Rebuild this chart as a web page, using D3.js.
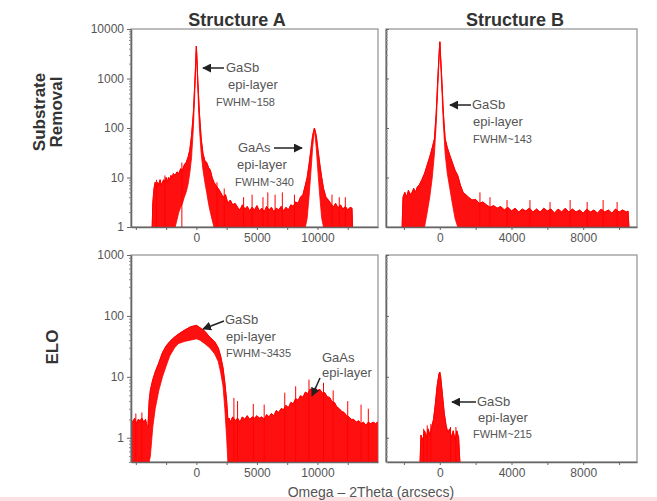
<!DOCTYPE html>
<html>
<head>
<meta charset="utf-8">
<script src="https://cdn.jsdelivr.net/npm/d3@7"></script>
<style>
  body { margin: 0; background: #fff; }
  text { font-family: Arial, "Liberation Sans", sans-serif; }
</style>
</head>
<body>
<svg width="657" height="501"></svg>
<script>
// ---- data (angle in arcsec, counts) ----
// Substrate removal, structure A
var topA_ang = [-3650,-3600,-3500,-3400,-3300,-3200,-3100,-3000,-2900,-2800,
  -2700,-2600,-2500,-2400,-2300,-2200,-2100,-2000,-1900,-1750,
  -1600,-1450,-1300,-1150,-1000,-850,-700,-550,-400,-250,
  -120,0,120,250,400,550,700,850,1000,1150,
  1300,1450,1600,1800,2000,2200,2400,2600,2800,3000,
  3200,3400,3600,3800,4000,4200,4400,4600,4800,5000,
  5200,5400,5600,5800,6000,6200,6400,6600,6800,7000,
  7200,7400,7600,7800,8000,8200,8400,8600,8800,9000,
  9150,9300,9450,9600,9750,9900,10050,10200,10350,10500,
  10700,10900,11100,11300,11500,11700,11900,12100,12300,12500,
  12700,12850,12900];
var topA_hi = [0.5,3,6,8,6,8,7,9,7,8,
  9,8,10,8,10,9,11,10,12,11,
  13,12,15,14,18,20,25,35,70,200,
  900,4500,900,200,60,30,22,20,16,14,
  10,8,7,6,5,4,4.5,3,3.5,2.8,
  3,2.5,2.2,2.8,2.3,2.6,2.1,2.5,2.2,2.7,
  2.1,2.4,2,2.6,2.2,2.5,2,2.4,2.2,2.6,
  2.1,2.5,2.2,2.8,2.6,3.2,3,4,4.5,7,
  10,18,35,70,100,70,35,18,10,6,
  4,3.5,3,2.5,3,2.4,2.8,2.3,2.6,2.2,
  2.5,2.4,0.5];
var topA_lo = [0.5,0.5,0.5,0.5,0.5,0.5,0.5,0.5,0.5,0.5,
  0.5,0.5,0.5,0.5,0.5,0.5,0.5,0.5,0.6,1,
  1.4,2,2.5,3,4,5,7,12,25,100,
  600,4500,600,100,30,14,8,5,3,2,
  1.4,1,0.5,0.5,0.5,0.5,0.5,0.5,0.5,0.5,
  0.5,0.5,0.5,0.5,0.5,0.5,0.5,0.5,0.5,0.5,
  0.5,0.5,0.5,0.5,0.5,0.5,0.5,0.5,0.5,0.5,
  0.5,0.5,0.5,0.5,0.5,0.5,0.5,0.5,0.5,0.5,
  1.5,4,12,40,95,40,12,4,1.5,0.5,
  0.5,0.5,0.5,0.5,0.5,0.5,0.5,0.5,0.5,0.5,
  0.5,0.5,0.5];
var topA_spikeAng = [-3300,-2600,-1200,1700,2300,3900,4600,5500,5900,6500,7100,8100,11200,11800,12300];
var topA_spikeVal = [9,11,20,8,6,4,4.5,4,5,4.5,5,4.5,4.5,4,4];

// Substrate removal, structure B
var topB_ang = [-2100,-2050,-1950,-1850,-1750,-1650,-1550,-1450,-1350,-1250,
  -1150,-1000,-850,-700,-560,-420,-300,-200,-100,0,
  100,200,300,420,560,700,850,1000,1150,1300,
  1450,1600,1800,2000,2200,2400,2600,2800,3000,3200,
  3400,3600,3800,4000,4200,4400,4600,4800,5000,5200,
  5400,5600,5800,6000,6200,6400,6600,6800,7000,7200,
  7400,7600,7800,8000,8200,8400,8600,8800,9000,9200,
  9400,9600,9800,10000,10200,10400,10500,10550];
var topB_hi = [0.5,4,5,4,5.5,4.5,5,6,5,6.5,
  7,9,12,18,26,40,60,200,1200,5500,
  1200,200,60,40,28,20,14,11,7,5,
  4.5,4,3.5,3.6,3,3.2,2.8,2.5,2.7,2.4,
  2.6,2.2,2.5,2.1,2.4,2,2.3,2.1,2.4,2,
  2.3,2,2.4,2.1,2.3,1.9,2.3,2,2.4,2,
  2.3,2,2.2,1.9,2.3,2,2.2,1.9,2.3,2,
  2.2,1.9,2.3,2,2.2,2,2.1,0.5];
var topB_lo = [0.5,0.5,0.5,0.5,0.5,0.5,0.5,0.5,0.5,0.5,
  0.5,0.5,1,2,4,10,30,120,800,5500,
  800,120,30,12,6,3,1.5,0.8,0.5,0.5,
  0.5,0.5,0.5,0.5,0.5,0.5,0.5,0.5,0.5,0.5,
  0.5,0.5,0.5,0.5,0.5,0.5,0.5,0.5,0.5,0.5,
  0.5,0.5,0.5,0.5,0.5,0.5,0.5,0.5,0.5,0.5,
  0.5,0.5,0.5,0.5,0.5,0.5,0.5,0.5,0.5,0.5,
  0.5,0.5,0.5,0.5,0.5,0.5,0.5,0.5];
var topB_spikeAng = [2240,2800,3750,5030,6150,7270,8220,9110,9890];
var topB_spikeVal = [5,4,3.5,3.5,3.2,3.5,3.2,3.5,3.2];

// ELO, structure A
var botA_ang = [-5400,-5250,-5100,-4950,-4800,-4650,-4500,-4350,-4200,-4100,
  -4000,-3900,-3800,-3600,-3400,-3100,-2800,-2500,-2200,-1800,
  -1500,-1000,-500,0,300,700,1100,1500,1800,2000,
  2200,2350,2500,2600,2700,2800,3000,3200,3400,3600,
  3800,4000,4200,4400,4600,4800,5000,5200,5400,5600,
  5800,6000,6200,6400,6600,6800,7000,7200,7400,7600,
  7800,8000,8200,8400,8600,8800,9000,9200,9400,9600,
  9800,10000,10200,10400,10600,10800,11000,11200,11400,11600,
  11800,12000,12200,12400,12600,12800,13000,13200,13400,13600,
  13800,14000,14200,14400,14600,14800,14950];
var botA_hi = [2,1.8,2.1,1.7,2,1.9,2.1,1.8,2,1.6,
  1.5,4,6,9,12,17,25,32,38,45,
  50,58,66,70,64,56,45,38,30,22,
  14,8,4,2,2.1,1.8,2.2,1.9,2.1,1.8,
  2.2,2,2.3,2,2.2,2.1,2.3,2.1,2.2,2,
  2.4,2.2,2.5,2.3,2.8,2.6,3,2.9,3.4,3.1,
  3.8,3.6,4.4,4.1,4.9,4.6,5.6,5.3,6.3,6,
  6.6,6,6.2,5.4,5.5,4.7,4.6,3.9,3.8,3.2,
  3,2.7,2.6,2.3,2.2,2,2,1.8,1.9,1.7,
  1.8,1.6,1.8,1.7,1.8,1.7,1.8];
var botA_lo = [0.2,0.2,0.2,0.2,0.2,0.2,0.2,0.2,0.2,0.2,
  0.2,0.2,0.5,1.5,3,6,10,15,22,30,
  35,38,40,42,40,35,30,24,18,12,
  7,3,1,0.2,0.2,0.2,0.2,0.2,0.2,0.2,
  0.2,0.2,0.2,0.2,0.2,0.2,0.2,0.2,0.2,0.2,
  0.2,0.2,0.2,0.2,0.2,0.2,0.2,0.2,0.2,0.2,
  0.2,0.2,0.2,0.2,0.2,0.2,0.2,0.2,0.2,0.2,
  0.2,0.2,0.2,0.2,0.2,0.2,0.2,0.2,0.2,0.2,
  0.2,0.2,0.2,0.2,0.2,0.2,0.2,0.2,0.2,0.2,
  0.2,0.2,0.2,0.2,0.2,0.2,0.2];
var botA_spikeAng = [-5000,-4500,3100,3400,4700,5600,7300,8200,9300,10500,11300,12500,13600,14200];
var botA_spikeVal = [2.5,2.6,4.5,4,3.6,3.5,5.5,7,9,8,6,4,3.5,3];

// ELO, structure B
var botB_ang = [-1100,-1050,-950,-850,-750,-650,-550,-450,-350,-250,
  -150,-50,0,50,150,250,350,450,550,650,
  750,850,950,1050,1120];
var botB_hi = [0.2,1.1,0.9,1.3,1,1.4,1.1,1.5,2,3.5,
  7,11,12,10,5,2.5,1.6,1.2,1.4,1,
  1.3,0.9,1.3,1,0.2];
var botB_lo = [0.2,0.2,0.2,0.2,0.2,0.2,0.2,0.2,0.2,0.2,
  0.2,0.2,0.2,0.2,0.2,0.2,0.2,0.2,0.2,0.2,
  0.2,0.2,0.2,0.2,0.2];
var botB_spikeAng = [-900,-700,-500,600,900];
var botB_spikeVal = [1.4,1.6,1.7,1.5,1.5];

// axis tick sets
var ticksA = [-5000,-2500,0,2500,5000,7500,10000,12500];
var labelsA = [0,5000,10000];
var ticksB = [-2000,0,2000,4000,6000,8000,10000];
var labelsB = [0,4000,8000];

var svg = d3.select("svg");

// scales
var xA = d3.scaleLinear().domain([-5400, 15000]).range([131, 378]);
var xB = d3.scaleLinear().domain([-3000, 11000]).range([386, 637]);
var yTop = d3.scaleLog().domain([1, 10000]).range([227, 29]).clamp(true);
var yBot = d3.scaleLog().domain([0.4, 1000]).range([462, 255]).clamp(true);

function zip(ang, hi, lo) {
  return ang.map(function(a, i) { return {a: a, hi: hi[i], lo: lo[i]}; });
}

var panels = [
  {id: "tA", x: xA, y: yTop, data: zip(topA_ang, topA_hi, topA_lo), sa: topA_spikeAng, sv: topA_spikeVal, ticks: ticksA, labels: labelsA, left: true},
  {id: "tB", x: xB, y: yTop, data: zip(topB_ang, topB_hi, topB_lo), sa: topB_spikeAng, sv: topB_spikeVal, ticks: ticksB, labels: labelsB, left: false},
  {id: "bA", x: xA, y: yBot, data: zip(botA_ang, botA_hi, botA_lo), sa: botA_spikeAng, sv: botA_spikeVal, ticks: ticksA, labels: labelsA, left: true},
  {id: "bB", x: xB, y: yBot, data: zip(botB_ang, botB_hi, botB_lo), sa: botB_spikeAng, sv: botB_spikeVal, ticks: ticksB, labels: labelsB, left: false}
];

svg.append("rect").attr("x", 0).attr("y", 497).attr("width", 657).attr("height", 4).attr("fill", "#fbe1e1");

panels.forEach(function(p) {
  var x0 = p.x.range()[0], x1 = p.x.range()[1];
  var yb = p.y.range()[0], yt = p.y.range()[1];
  var g = svg.append("g");

  g.append("clipPath").attr("id", "clip-" + p.id)
    .append("rect").attr("x", x0).attr("y", yt).attr("width", x1 - x0).attr("height", yb - yt);

  // frame
  g.append("rect").attr("x", x0).attr("y", yt).attr("width", x1 - x0).attr("height", yb - yt)
    .attr("fill", "none").attr("stroke", "#999").attr("stroke-width", 1.3);

  var plot = g.append("g").attr("clip-path", "url(#clip-" + p.id + ")");

  var area = d3.area()
    .x(function(d) { return p.x(d.a); })
    .y0(function(d) { return p.y(d.lo); })
    .y1(function(d) { return p.y(d.hi); });

  plot.append("path").datum(p.data).attr("d", area)
    .attr("fill", "#ff1010").attr("stroke", "#ff0000").attr("stroke-width", 0.8);

  var line = d3.line().x(function(d) { return p.x(d.a); }).y(function(d) { return p.y(d.hi); });
  plot.append("path").datum(p.data).attr("d", line)
    .attr("fill", "none").attr("stroke", "#ff0000").attr("stroke-width", 1);

  plot.selectAll(".spike").data(p.sa).enter().append("line")
    .attr("x1", function(d) { return p.x(d); })
    .attr("x2", function(d) { return p.x(d); })
    .attr("y1", yb)
    .attr("y2", function(d, i) { return p.y(p.sv[i]); })
    .attr("stroke", "#ff0000").attr("stroke-width", 1);

  // x axis
  var xa = g.append("g").attr("transform", "translate(0," + yb + ")")
    .call(d3.axisBottom(p.x).tickValues(p.ticks).tickSize(3).tickSizeOuter(0)
      .tickFormat(function(d) { return p.labels.indexOf(d) >= 0 ? d : ""; }));
  xa.select(".domain").attr("stroke", "#666").attr("stroke-width", 1.6);
  xa.selectAll(".tick line").attr("stroke", "#666");
  xa.selectAll("text").attr("fill", "#555").attr("font-size", 12);

  // y axis
  var dec = p.y.ticks().filter(function(d) { return Math.abs(Math.log10(d) - Math.round(Math.log10(d))) < 1e-6; });
  var minor = p.y.ticks().filter(function(d) { return dec.indexOf(d) < 0; });
  if (p.left) {
    var ya = g.append("g").attr("transform", "translate(" + x0 + ",0)")
      .call(d3.axisLeft(p.y).tickValues(dec).tickSize(4).tickSizeOuter(0).tickFormat(d3.format("d")));
    ya.select(".domain").attr("stroke", "#666").attr("stroke-width", 1.6);
    ya.selectAll(".tick line").attr("stroke", "#666");
    ya.selectAll("text").attr("fill", "#555").attr("font-size", 12);
    var ym = g.append("g").attr("transform", "translate(" + x0 + ",0)")
      .call(d3.axisLeft(p.y).tickValues(minor).tickSize(2).tickFormat(""));
    ym.select(".domain").remove();
    ym.selectAll(".tick line").attr("stroke", "#888");
  } else {
    var yr = g.append("g").attr("transform", "translate(" + x0 + ",0)")
      .call(d3.axisRight(p.y).tickValues(dec).tickSize(3).tickSizeOuter(0).tickFormat(""));
    yr.select(".domain").attr("stroke", "#666").attr("stroke-width", 1.6);
    yr.selectAll(".tick line").attr("stroke", "#666");
    var yrm = g.append("g").attr("transform", "translate(" + x0 + ",0)")
      .call(d3.axisRight(p.y).tickValues(minor).tickSize(2).tickFormat(""));
    yrm.select(".domain").remove();
    yrm.selectAll(".tick line").attr("stroke", "#999");
  }
});

// titles
svg.append("text").attr("x", 237).attr("y", 26).attr("text-anchor", "middle")
  .attr("font-size", 18).attr("font-weight", "bold").attr("fill", "#333").text("Structure A");
svg.append("text").attr("x", 515).attr("y", 26).attr("text-anchor", "middle")
  .attr("font-size", 18).attr("font-weight", "bold").attr("fill", "#333").text("Structure B");

svg.append("text").attr("transform", "translate(45,112) rotate(-90)").attr("text-anchor", "middle")
  .attr("font-size", 17).attr("font-weight", "bold").attr("fill", "#333").text("Substrate");
svg.append("text").attr("transform", "translate(62,112) rotate(-90)").attr("text-anchor", "middle")
  .attr("font-size", 17).attr("font-weight", "bold").attr("fill", "#333").text("Removal");
svg.append("text").attr("transform", "translate(58,347) rotate(-90)").attr("text-anchor", "middle")
  .attr("font-size", 17).attr("font-weight", "bold").attr("fill", "#333").text("ELO");

svg.append("text").attr("x", 371).attr("y", 497).attr("text-anchor", "middle")
  .attr("font-size", 14).attr("fill", "#555").text("Omega \u2013 2Theta (arcsecs)");

// annotations
var defs = svg.append("defs");
defs.append("marker").attr("id", "arr").attr("viewBox", "0 0 10 10").attr("refX", 9).attr("refY", 5)
  .attr("markerWidth", 6).attr("markerHeight", 6).attr("orient", "auto")
  .append("path").attr("d", "M0,0L10,5L0,10z").attr("fill", "#222");

var notes = [
  {from: [224, 68], to: [203, 68], lines: [["GaSb", 226, 72], ["epi-layer", 228, 89], ["FWHM~158", 216, 106]]},
  {from: [274, 148], to: [302, 148], lines: [["GaAs", 238, 152], ["epi-layer", 237, 169], ["FWHM~340", 235, 186]]},
  {from: [471, 105], to: [450, 105], lines: [["GaSb", 472, 109], ["epi-layer", 473, 126], ["FWHM~143", 473, 143]]},
  {from: [224, 321], to: [203, 329], lines: [["GaSb", 225, 324], ["epi-layer", 226, 341], ["FWHM~3435", 226, 357]]},
  {from: [320, 378], to: [312, 396], lines: [["GaAs", 322, 362], ["epi-layer", 322, 377]]},
  {from: [476, 402], to: [452, 402], lines: [["GaSb", 477, 406], ["epi-layer", 478, 422], ["FWHM~215", 473, 438]]}
];
notes.forEach(function(n) {
  svg.append("line").attr("x1", n.from[0]).attr("y1", n.from[1]).attr("x2", n.to[0]).attr("y2", n.to[1])
    .attr("stroke", "#222").attr("stroke-width", 1.5).attr("marker-end", "url(#arr)");
  n.lines.forEach(function(l) {
    svg.append("text").attr("x", l[1]).attr("y", l[2]).attr("font-size", l[0].indexOf("FWHM") === 0 ? 11 : 13)
      .attr("fill", "#555").text(l[0]);
  });
});
</script>
</body>
</html>
